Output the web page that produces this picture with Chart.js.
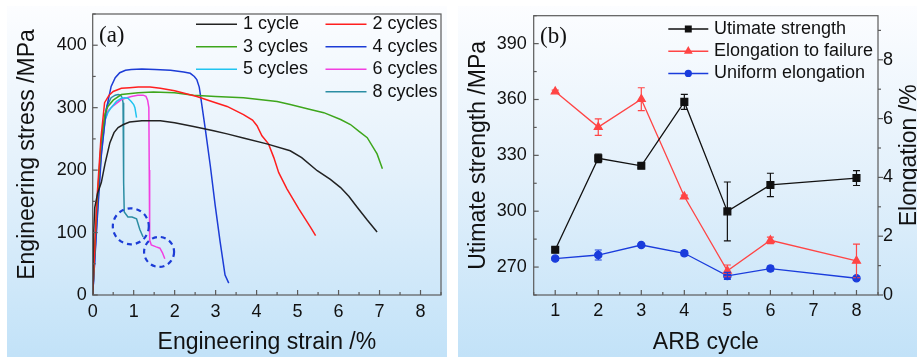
<!DOCTYPE html>
<html>
<head>
<meta charset="utf-8">
<script src="https://cdn.jsdelivr.net/npm/chart.js@4.4.1/dist/chart.umd.min.js"></script>
<style>
    html, body { margin: 0; padding: 0; background: #fff; overflow: hidden; }
    body { width: 917px; height: 357px; position: relative; }
    #chartA { position: absolute; left: 7px; top: 6px; }
    #chartB { position: absolute; left: 458px; top: 6px; }
</style>
</head>
<body>
<canvas id="chartA" width="440" height="351"></canvas>
<canvas id="chartB" width="459" height="351"></canvas>
<script>
// (a) stress-strain curves, strain in %, stress in MPa
const curveLabels = ['1 cycle', '2 cycles', '3 cycles', '4 cycles', '5 cycles', '6 cycles', '8 cycles'];

const strain1 = [0, 0.02, 0.05, 0.12, 0.21, 0.3, 0.42, 0.52, 0.62, 0.75, 0.9, 1.2, 1.65, 2.0, 2.46, 2.95, 3.28, 3.7, 4.25, 4.82, 5.1, 5.48, 5.8, 6.05, 6.25, 6.45, 6.7, 6.94];
const stress1 = [0, 95, 140, 163, 180, 210, 244, 260, 268, 273, 277, 279, 279, 276, 270, 263, 258, 251, 242, 231, 220, 199, 185, 172, 158, 141, 120, 101];

const strain2 = [0, 0.1, 0.2, 0.29, 0.4, 0.5, 0.7, 0.9, 1.11, 1.4, 1.65, 2.0, 2.54, 3.0, 3.28, 3.68, 3.9, 4.01, 4.13, 4.29, 4.42, 4.54, 4.74, 5.03, 5.31, 5.44];
const stress2 = [0, 150, 250, 308, 320, 326, 331, 332, 333, 333, 331, 327, 318, 308, 302, 289, 280, 271, 255, 242, 220, 196, 170, 138, 109, 95];

const strain3 = [0, 0.1, 0.2, 0.3, 0.37, 0.5, 0.7, 1.11, 1.48, 2.0, 2.46, 3.0, 3.68, 4.5, 4.82, 5.31, 5.64, 6.05, 6.29, 6.5, 6.7, 6.94, 7.07];
const stress3 = [0, 140, 240, 290, 302, 312, 321, 324, 325, 324, 320, 318, 316, 310, 305, 297, 292, 281, 273, 262, 252, 226, 202];

const strain4 = [0, 0.1, 0.21, 0.33, 0.45, 0.55, 0.66, 0.8, 0.94, 1.2, 1.52, 1.9, 2.22, 2.38, 2.48, 2.54, 2.6, 2.62, 2.75, 2.87, 2.99, 3.11, 3.23, 3.32];
const stress4 = [0, 110, 223, 297, 334, 348, 356, 360, 361, 362, 361, 360, 357, 355, 350, 345, 333, 324, 265, 207, 143, 85, 32, 19];

const strain5 = [0, 0.1, 0.2, 0.3, 0.37, 0.45, 0.58, 0.7, 0.78, 0.86, 0.94, 1.0, 1.03, 1.07];
const stress5 = [0, 120, 225, 280, 292, 300, 310, 315, 316, 315, 310, 305, 300, 284];

const strain6 = [0, 0.1, 0.2, 0.3, 0.37, 0.5, 0.7, 0.94, 1.1, 1.23, 1.3, 1.34, 1.37, 1.38, 1.39, 1.43, 1.55, 1.64, 1.7, 1.76];
const stress6 = [0, 115, 220, 280, 295, 303, 313, 318, 320, 320, 318, 312, 300, 200, 88, 80, 77, 75, 68, 58];

const strain8 = [0, 0.1, 0.2, 0.25, 0.35, 0.45, 0.55, 0.62, 0.68, 0.72, 0.74, 0.75, 0.76, 0.77, 0.86, 0.96, 1.07, 1.15, 1.23];
const stress8 = [0, 125, 235, 270, 303, 316, 320, 321, 320, 316, 308, 250, 180, 133, 125, 125, 122, 105, 93];

// dashed circles marking the fracture steps (data coordinates)
const circleStrain = [0.93, 1.62];
const circleStress = [110, 69];

const strainTicks = [0, 1, 2, 3, 4, 5, 6, 7, 8];
const stressTicks = [0, 100, 200, 300, 400];

// (b) properties vs ARB cycle
const arbCycles = [1, 2, 3, 4, 5, 6, 8];
const ultimateStrength = [279.3, 328.4, 324.4, 358.7, 299.9, 314.1, 317.8];
const ultimateStrengthErr = [1.2, 2.3, 1.0, 4.0, 15.8, 6.3, 4.0];
const elongFailure = [6.92, 5.71, 6.66, 3.35, 0.82, 1.86, 1.16];
const elongFailureErr = [0.05, 0.28, 0.39, 0.05, 0.2, 0.11, 0.57];
const uniformElong = [1.24, 1.36, 1.70, 1.42, 0.65, 0.90, 0.57];
const uniformElongErr = [0.06, 0.17, 0.04, 0.08, 0.12, 0.08, 0.05];

const cycleTicks = [1, 2, 3, 4, 5, 6, 7, 8];
const strengthTicks = [270, 300, 330, 360, 390];
const elongTicks = [0, 2, 4, 6, 8];

const FONT = "'Liberation Sans', Arial, sans-serif";
Chart.defaults.font.family = FONT;
Chart.defaults.color = '#111';

function toPoints(xs, ys) {
    return xs.map((x, i) => ({x: x, y: ys[i]}));
}

function fixedTicks(values) {
    return function(scale) {
        scale.ticks = values.map(v => ({value: v}));
    };
}

// fixed axis box size, no label overhang padding
function fitSize(size) {
    return function(scale) {
        if (scale.isHorizontal()) scale.height = size;
        else scale.width = size;
        scale.paddingTop = 0;
        scale.paddingBottom = 0;
        scale.paddingLeft = 0;
        scale.paddingRight = 0;
    };
}

// gradient background, frame box, tick marks, panel letter
const framePlugin = {
    id: 'frame',
    beforeDraw(chart) {
        const {ctx, width, height} = chart;
        const g = ctx.createLinearGradient(0, 0, 0, height);
        g.addColorStop(0, '#fcfdff');
        g.addColorStop(0.5, '#e2f0fb');
        g.addColorStop(1, '#c2e2f8');
        ctx.save();
        ctx.fillStyle = g;
        ctx.fillRect(0, 0, width, height);
        ctx.restore();
    },
    afterDraw(chart, args, opts) {
        const ctx = chart.ctx;
        const a = chart.chartArea;
        ctx.save();
        ctx.strokeStyle = '#5a5a5a';
        ctx.lineWidth = 1.2;
        ctx.strokeRect(a.left, a.top, a.right - a.left, a.bottom - a.top);

        (opts.ticks || []).forEach(t => {
            const scale = chart.scales[t.axis];
            let v = Math.ceil(scale.min / t.minor - 1e-9) * t.minor;
            for (; v <= scale.max + 1e-9; v += t.minor) {
                const r = v / t.major;
                const len = Math.abs(r - Math.round(r)) < 1e-6 ? 5 : 3;
                const p = scale.getPixelForValue(v);
                ctx.beginPath();
                if (t.side === 'bottom') {
                    ctx.moveTo(p, a.bottom);
                    ctx.lineTo(p, a.bottom + t.dir * len);
                } else {
                    const x0 = t.side === 'left' ? a.left : a.right;
                    ctx.moveTo(x0, p);
                    ctx.lineTo(x0 + t.dir * len, p);
                }
                ctx.stroke();
            }
        });

        if (opts.letter) {
            ctx.fillStyle = '#111';
            ctx.font = "23px 'Liberation Serif', 'Times New Roman', serif";
            ctx.textBaseline = 'middle';
            ctx.textAlign = 'left';
            ctx.fillText(opts.letter.text, opts.letter.x, opts.letter.y);
        }

        if (opts.rightTitle) {
            const rt = opts.rightTitle;
            ctx.fillStyle = '#111';
            ctx.font = '23px ' + FONT;
            ctx.textAlign = 'center';
            ctx.textBaseline = 'middle';
            ctx.translate(rt.x, (a.top + a.bottom) / 2);
            ctx.rotate(-Math.PI / 2);
            ctx.fillText(rt.text, 0, 0);
        }
        ctx.restore();
    }
};

// legend drawn inside the plot box; slots give [column, row] per dataset
const boxLegendPlugin = {
    id: 'boxLegend',
    afterDraw(chart, args, opts) {
        const ctx = chart.ctx;
        ctx.save();
        ctx.font = '18px ' + FONT;
        ctx.textBaseline = 'middle';
        ctx.textAlign = 'left';
        chart.data.datasets.forEach((ds, i) => {
            const slot = opts.slots ? opts.slots[i] : [0, i];
            const x = opts.x[slot[0]];
            const y = opts.y0 + slot[1] * opts.dy;
            ctx.strokeStyle = ds.borderColor;
            ctx.lineWidth = 1.5;
            ctx.beginPath();
            ctx.moveTo(x, y);
            ctx.lineTo(x + opts.line, y);
            ctx.stroke();
            if (opts.markers) {
                ctx.fillStyle = ds.borderColor;
                Chart.helpers.drawPoint(ctx, {
                    pointStyle: ds.pointStyle,
                    radius: ds.pointRadius * 0.8,
                    rotation: 0,
                    borderWidth: 1
                }, x + opts.line / 2, y);
            }
            ctx.fillStyle = '#111';
            ctx.fillText(ds.label, x + opts.gap, y);
        });
        ctx.restore();
    }
};

const circlePlugin = {
    id: 'dashCircles',
    afterDatasetsDraw(chart, args, opts) {
        const ctx = chart.ctx;
        const xs = chart.scales.x, ys = chart.scales.y;
        ctx.save();
        ctx.strokeStyle = '#1c3cd6';
        ctx.lineWidth = 2.2;
        ctx.setLineDash([5, 4]);
        circleStrain.forEach((s, i) => {
            ctx.beginPath();
            ctx.arc(xs.getPixelForValue(s), ys.getPixelForValue(circleStress[i]), opts.radius[i], 0, Math.PI * 2);
            ctx.stroke();
        });
        ctx.restore();
    }
};

const errorBarPlugin = {
    id: 'errorBars',
    afterDatasetsDraw(chart) {
        const ctx = chart.ctx;
        chart.data.datasets.forEach((ds, i) => {
            if (!ds.errors) return;
            const meta = chart.getDatasetMeta(i);
            const yScale = chart.scales[meta.yAxisID];
            ctx.save();
            ctx.strokeStyle = ds.borderColor;
            ctx.lineWidth = 1.2;
            meta.data.forEach((pt, j) => {
                const v = ds.data[j].y, e = ds.errors[j];
                const top = yScale.getPixelForValue(v + e);
                const bot = yScale.getPixelForValue(v - e);
                ctx.beginPath();
                ctx.moveTo(pt.x, top); ctx.lineTo(pt.x, bot);
                ctx.moveTo(pt.x - 3.5, top); ctx.lineTo(pt.x + 3.5, top);
                ctx.moveTo(pt.x - 3.5, bot); ctx.lineTo(pt.x + 3.5, bot);
                ctx.stroke();
            });
            ctx.restore();
        });
    }
};

function initializeCurveChart() {
    const colors = ['#222222', '#ff1f1f', '#3ea61c', '#1c3cd6', '#20c4f0', '#f23fe0', '#2b8da3'];
    const strains = [strain1, strain2, strain3, strain4, strain5, strain6, strain8];
    const stresses = [stress1, stress2, stress3, stress4, stress5, stress6, stress8];

    new Chart(document.getElementById('chartA'), {
        type: 'line',
        data: {
            datasets: curveLabels.map((label, i) => ({
                label: label,
                data: toPoints(strains[i], stresses[i]),
                borderColor: colors[i],
                backgroundColor: colors[i],
                borderWidth: 1.5,
                pointRadius: 0,
                tension: 0
            }))
        },
        plugins: [framePlugin, circlePlugin, boxLegendPlugin],
        options: {
            responsive: false,
            animation: false,
            layout: { padding: { top: 8, right: 6, left: 0, bottom: 0 } },
            plugins: {
                legend: { display: false },
                tooltip: { enabled: false },
                frame: {
                    ticks: [
                        { axis: 'x', side: 'bottom', minor: 0.5, major: 1, dir: -1 },
                        { axis: 'y', side: 'left', minor: 50, major: 100, dir: 1 }
                    ],
                    letter: { text: '(a)', x: 92, y: 30 }
                },
                dashCircles: { radius: [18, 15] },
                boxLegend: {
                    x: [189, 318.5], y0: 18.3, dy: 22.5, line: 41, gap: 47, markers: false,
                    slots: [[0, 0], [1, 0], [0, 1], [1, 1], [0, 2], [1, 2], [1, 3]]
                }
            },
            scales: {
                x: {
                    type: 'linear',
                    min: 0,
                    max: 8.5,
                    afterBuildTicks: fixedTicks(strainTicks),
                    afterFit: fitSize(62),
                    grid: { display: false, drawTicks: false },
                    border: { display: false },
                    ticks: { padding: 6, font: { size: 18 }, color: '#111' },
                    title: { display: true, text: 'Engineering strain /%', font: { size: 23 }, color: '#111', padding: { top: 0, bottom: 1 } }
                },
                y: {
                    min: 0,
                    max: 450,
                    afterBuildTicks: fixedTicks(stressTicks),
                    afterFit: fitSize(85.7),
                    grid: { display: false, drawTicks: false },
                    border: { display: false },
                    ticks: { padding: 6, font: { size: 18 }, color: '#111' },
                    title: { display: true, text: 'Engineering stress /MPa', font: { size: 23 }, color: '#111', padding: { top: 7, bottom: 0 } }
                }
            }
        }
    });
}

function initializeCycleChart() {
    new Chart(document.getElementById('chartB'), {
        type: 'line',
        data: {
            datasets: [
                {
                    label: 'Utimate strength',
                    data: toPoints(arbCycles, ultimateStrength),
                    errors: ultimateStrengthErr,
                    yAxisID: 'y',
                    borderColor: '#111111',
                    backgroundColor: '#111111',
                    borderWidth: 1.3,
                    pointStyle: 'rect',
                    pointRadius: 4.8,
                    tension: 0
                },
                {
                    label: 'Elongation to failure',
                    data: toPoints(arbCycles, elongFailure),
                    errors: elongFailureErr,
                    yAxisID: 'y1',
                    borderColor: '#ff4545',
                    backgroundColor: '#ff4545',
                    borderWidth: 1.3,
                    pointStyle: 'triangle',
                    pointRadius: 4.5,
                    tension: 0
                },
                {
                    label: 'Uniform elongation',
                    data: toPoints(arbCycles, uniformElong),
                    errors: uniformElongErr,
                    yAxisID: 'y1',
                    borderColor: '#1a3cdc',
                    backgroundColor: '#1a3cdc',
                    borderWidth: 1.3,
                    pointStyle: 'circle',
                    pointRadius: 3.6,
                    tension: 0
                }
            ]
        },
        plugins: [framePlugin, errorBarPlugin, boxLegendPlugin],
        options: {
            responsive: false,
            animation: false,
            layout: { padding: { top: 9.7, right: 0, left: 0, bottom: 0 } },
            plugins: {
                legend: { display: false },
                tooltip: { enabled: false },
                frame: {
                    ticks: [
                        { axis: 'x', side: 'bottom', minor: 0.5, major: 1, dir: -1 },
                        { axis: 'y', side: 'left', minor: 15, major: 30, dir: 1 },
                        { axis: 'y1', side: 'right', minor: 1, major: 2, dir: 1 }
                    ],
                    letter: { text: '(b)', x: 82, y: 31 },
                    rightTitle: { text: 'Elongation /%', x: 452 }
                },
                boxLegend: { x: [210.3], y0: 23, dy: 22.2, line: 40, gap: 45.7, markers: true }
            },
            scales: {
                x: {
                    type: 'linear',
                    min: 0.5,
                    max: 8.5,
                    afterBuildTicks: fixedTicks(cycleTicks),
                    afterFit: fitSize(62),
                    grid: { display: false, drawTicks: false },
                    border: { display: false },
                    ticks: { padding: 5, font: { size: 18 }, color: '#111' },
                    title: { display: true, text: 'ARB cycle', font: { size: 23 }, color: '#111', padding: { top: 0, bottom: 1 } }
                },
                y: {
                    position: 'left',
                    min: 255,
                    max: 405,
                    afterBuildTicks: fixedTicks(strengthTicks),
                    afterFit: fitSize(75.7),
                    grid: { display: false, drawTicks: false },
                    border: { display: false },
                    ticks: { padding: 7, font: { size: 18 }, color: '#111' },
                    title: { display: true, text: 'Utimate strength /MPa', font: { size: 23 }, color: '#111', padding: { top: 7, bottom: 0 } }
                },
                y1: {
                    position: 'right',
                    min: 0,
                    max: 9.5,
                    afterBuildTicks: fixedTicks(elongTicks),
                    afterFit: fitSize(39),
                    grid: { display: false, drawTicks: false },
                    border: { display: false },
                    ticks: { padding: 5, font: { size: 18 }, color: '#111' },
                    title: { display: false }
                }
            }
        }
    });
}

initializeCurveChart();
initializeCycleChart();
</script>
</body>
</html>
